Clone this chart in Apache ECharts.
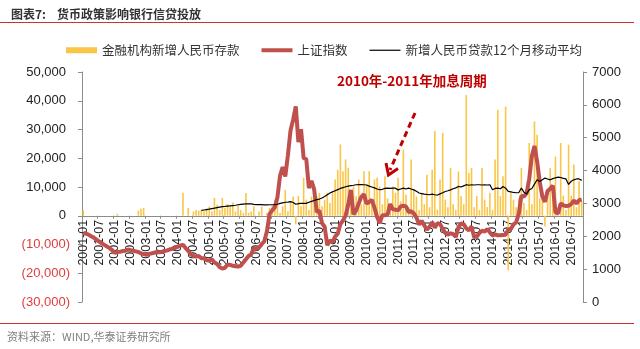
<!DOCTYPE html>
<html><head><meta charset="utf-8">
<script src="https://cdn.jsdelivr.net/npm/echarts@6/dist/echarts.min.js"></script>
<style>html,body{margin:0;padding:0;background:#fff}#c{width:640px;height:349px}</style>
</head><body><div id="c"></div>
<script>
// categories: monthly 2001-01 .. 2016-11
const months = [];
for (let y = 2001; y <= 2016; y++) for (let m = 1; m <= 12; m++) { if (y === 2016 && m > 11) break; months.push(y + '-' + (m < 10 ? '0' + m : m)); }

// 金融机构新增人民币存款 (left axis)
const deposits = [
 2000,0,0,0,0,0,0,0,0,0,0,0,
 0,700,0,0,0,0,0,0,0,1800,2400,2700,
 0,0,0,0,0,0,0,0,0,0,0,0,
 0,0,8000,0,2700,0,1500,2000,1800,2000,1600,2500,
 3200,1500,6200,3800,2000,6200,2700,4100,3000,4600,1500,3600,
 2000,1000,7900,1000,1500,3300,0,1500,3300,0,1000,2700,
 3600,5600,8400,1000,3300,9000,1600,5000,6700,-3000,6900,3300,
 13200,5600,2000,6700,9000,6800,7900,3300,5600,8000,4400,7900,
 12600,16000,24800,15500,19600,16700,5000,10200,6800,12600,4000,15500,
 10900,15500,5000,12600,13200,10200,4000,13700,6000,3000,10200,8000,
 13200,5000,23000,7300,3000,19600,9000,6700,2000,7900,4000,14300,
 3000,16000,29500,2000,12600,28800,5600,3000,16600,4000,2000,15400,
 6800,4000,42000,14900,16600,3000,6800,2000,16600,5600,3000,8000,
 2000,19600,36900,6800,13700,38000,-19000,7900,5600,3000,6000,16600,
 4400,2000,25300,4000,32800,28200,6000,9000,-3700,7000,16600,8000,
 20600,3000,25300,7000,2000,24700,7000,17800,3000,12000,5000
];

// 上证指数 (right axis)
const sse = [
 2100,2080,2050,2000,1960,1900,1840,1790,1740,1690,1640,1580,
 1500,1520,1530,1550,1560,1600,1580,1560,1540,1520,1480,1460,
 1440,1460,1480,1500,1520,1510,1530,1550,1570,1600,1620,1650,
 1680,1720,1740,1640,1560,1450,1400,1380,1400,1330,1330,1270,
 1260,1300,1200,1160,1060,1020,1040,1140,1130,1100,1090,1080,
 1100,1200,1300,1400,1450,1640,1620,1660,1760,1850,2150,2680,
 2790,2880,3180,3840,4110,3820,4470,5220,5550,5950,4870,5260,
 4380,4350,3470,3690,3430,2740,2780,2400,2290,1730,1870,1820,
 1990,2080,2370,2480,2630,2960,3410,2670,2780,3000,3200,3280,
 2990,3050,3110,2870,2590,2400,2640,2640,2660,2980,2820,2810,
 2790,2910,2930,2910,2740,2760,2700,2570,2360,2470,2330,2200,
 2290,2430,2260,2400,2370,2230,2100,2050,2090,2070,1980,2270,
 2390,2370,2240,2180,2300,1980,1990,2100,2170,2140,2220,2120,
 2030,2060,2030,2030,2040,2050,2200,2220,2360,2420,2680,3230,
 3210,3310,3750,4440,4750,4280,3660,3210,3050,3380,3450,3540,
 2740,2690,3000,2940,2920,2930,2980,3090,3000,3100,3120
];

// 新增人民币贷款12个月移动平均 (left axis)
const loansMA = [
 null,null,null,null,null,null,null,null,null,null,null,null,
 null,null,null,null,null,null,null,null,null,null,null,null,
 null,null,null,null,null,null,null,null,null,null,null,null,
 null,null,null,null,null,null,null,null,null,1850,2000,2150,
 2300,2500,2670,2850,3000,3150,3240,3350,3450,3550,3650,3830,
 3950,4050,4120,4170,4100,3950,3900,3850,3850,3800,3800,3820,
 3830,3900,4000,4300,4500,4700,4750,4900,4600,4000,4200,4300,
 4300,4300,4700,5000,5300,5600,5800,6200,6700,7300,7900,8300,
 8700,9100,9500,9800,10100,10300,10500,10600,10780,10800,10800,10780,
 10700,10300,10000,9700,9300,9040,9200,9500,9630,9500,9630,9600,
 9000,9300,9600,9300,9630,9300,9000,8500,7900,7700,7500,7400,
 7300,7500,7300,7200,7600,8000,8450,8700,9000,9400,9700,10200,
 10000,10400,10800,10600,10780,10700,10780,10780,10700,10780,10700,10780,
 9040,9500,9630,9400,10200,9600,8450,8300,8100,8000,8000,9630,
 8200,7600,9000,9500,11000,12500,11900,12500,13100,12800,12500,12900,
 13200,13450,13300,13000,12800,10900,12000,12500,12800,12800,12300
];

const leftTicks = { min: -30000, max: 50000, interval: 10000 };
const rightTicks = { min: 0, max: 7000, interval: 1000 };

const FONT = 'Liberation Sans, Arial, sans-serif';
const CJK = 'Noto Sans CJK SC, sans-serif';
const fmt = n => String(n).replace(/\B(?=(\d{3})+(?!\d))/g, ',');

const GRID = { left: 82, right: 57, top: 72, bottom: 47 };
const gridH = 349 - GRID.top - GRID.bottom;
// place the category axis at the left axis' zero line
const zeroOffset = gridH * (0 - leftTicks.min) / (leftTicks.max - leftTicks.min);

const chart = echarts.init(document.getElementById('c'), null, { renderer: 'canvas' });
chart.setOption({
  animation: false,
  backgroundColor: '#fff',
  title: {
    text: '图表7:    货币政策影响银行信贷投放',
    left: 6, top: 3,
    textStyle: { fontSize: 12, fontWeight: 'bold', color: '#333', fontFamily: CJK }
  },
  legend: {
    left: 61, top: 39, itemWidth: 31, itemHeight: 6, itemGap: 22,
    textStyle: { fontSize: 12.5, color: '#333', fontFamily: CJK },
    data: [
      { name: '金融机构新增人民币存款', icon: 'rect' },
      { name: '上证指数', icon: 'path://M0,0H31V4H0Z' },
      { name: '新增人民币贷款12个月移动平均', icon: 'path://M0,0H31V1.2H0Z' }
    ]
  },
  grid: { left: GRID.left, right: GRID.right, top: GRID.top, bottom: GRID.bottom, containLabel: false, outerBoundsMode: 'none' },
  xAxis: {
    type: 'category', data: months, boundaryGap: true,
    offset: -zeroOffset,
    axisLine: { onZero: false, lineStyle: { color: '#8c8c8c', width: 1 } },
    axisTick: { show: true, interval: 5, length: 3, lineStyle: { color: '#8c8c8c' } },
    axisLabel: { interval: 5, rotate: 90, margin: 4, fontSize: 12.5, color: '#222', fontFamily: FONT }
  },
  yAxis: [
    {
      type: 'value', min: leftTicks.min, max: leftTicks.max, interval: leftTicks.interval,
      splitLine: { show: false },
      axisLine: { show: true, lineStyle: { color: '#8c8c8c' } },
      axisTick: { show: true, length: 4, lineStyle: { color: '#8c8c8c' } },
      axisLabel: {
        margin: 12, fontSize: 13, fontFamily: FONT,
        formatter: v => v < 0 ? '{neg|(' + fmt(Math.abs(v)) + ')}' : '{pos|' + fmt(v) + '}',
        rich: {
          neg: { color: '#E03C3C', fontSize: 13, fontFamily: FONT },
          pos: { color: '#222', fontSize: 13, fontFamily: FONT, padding: [0, 4, 0, 0] }
        }
      }
    },
    {
      type: 'value', min: rightTicks.min, max: rightTicks.max, interval: rightTicks.interval,
      position: 'right',
      splitLine: { show: false },
      axisLine: { show: true, lineStyle: { color: '#8c8c8c' } },
      axisTick: { show: true, length: 4, lineStyle: { color: '#8c8c8c' } },
      axisLabel: { margin: 9, fontSize: 13, color: '#222', fontFamily: FONT, formatter: v => String(v) }
    }
  ],
  series: [
    {
      name: '金融机构新增人民币存款', type: 'bar', yAxisIndex: 0, data: deposits,
      barWidth: 1.6, itemStyle: { color: '#F9C648' }
    },
    {
      name: '上证指数', type: 'line', yAxisIndex: 1, data: sse,
      symbol: 'none', lineStyle: { width: 4, color: '#C0504D' }, itemStyle: { color: '#C0504D' }
    },
    {
      name: '新增人民币贷款12个月移动平均', type: 'line', yAxisIndex: 0, data: loansMA,
      symbol: 'none', lineStyle: { width: 1.2, color: '#000' }, itemStyle: { color: '#000' }
    }
  ],
  graphic: [
    { type: 'line', shape: { x1: 0, y1: 22.5, x2: 634, y2: 22.5 }, style: { stroke: '#D0312D', lineWidth: 1 } },
    { type: 'line', shape: { x1: 0, y1: 323.5, x2: 634, y2: 323.5 }, style: { stroke: '#D0312D', lineWidth: 1 } },
    { type: 'text', left: 7, top: 331, style: { text: '资料来源：WIND,华泰证券研究所', fill: '#808080', fontSize: 11, fontFamily: CJK } },
    { type: 'text', left: 337, top: 74, style: { text: '2010年-2011年加息周期', fill: '#C00000', fontSize: 13.5, fontWeight: 'bold', fontFamily: CJK } },
    { type: 'line', shape: { x1: 415, y1: 113, x2: 390, y2: 170 }, style: { stroke: '#C00000', lineWidth: 3, lineDash: [6, 4] } },
    { type: 'polyline', shape: { points: [[386, 163], [388.5, 175], [398, 168.5]] }, style: { stroke: '#C00000', lineWidth: 3, fill: null } }
  ]
});
</script>
</body></html>
